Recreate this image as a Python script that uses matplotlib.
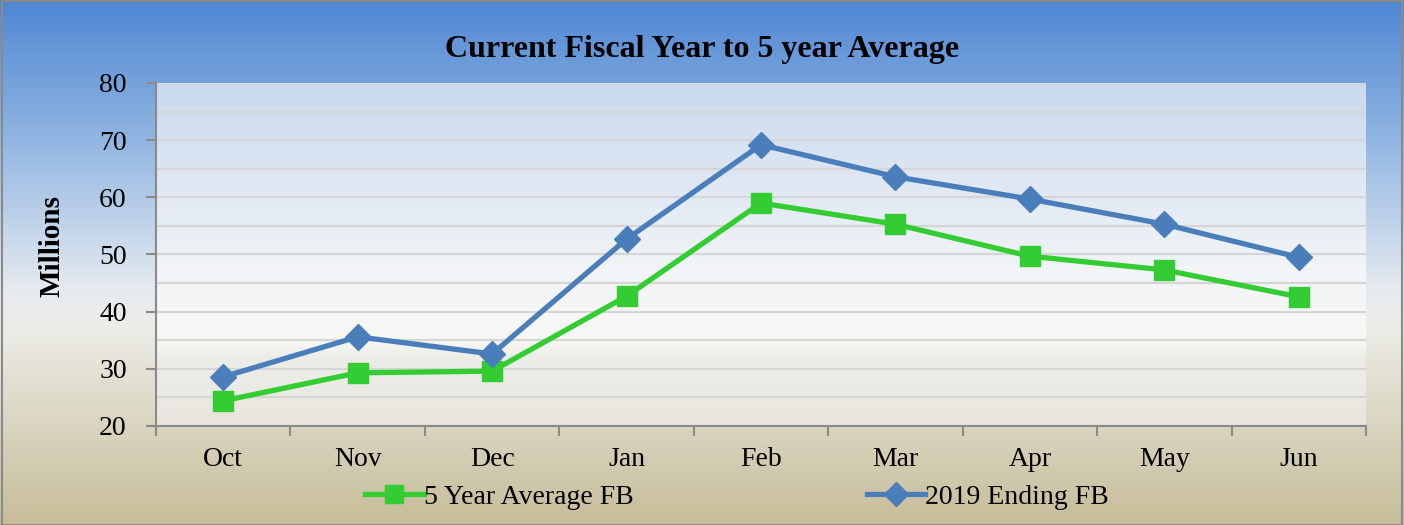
import matplotlib
matplotlib.use("Agg")
import matplotlib.pyplot as plt
import numpy as np
from matplotlib.colors import LinearSegmentedColormap
from matplotlib.ticker import MultipleLocator

months = ["Oct", "Nov", "Dec", "Jan", "Feb", "Mar", "Apr", "May", "Jun"]
avg_5yr = [24.4, 29.3, 29.6, 42.7, 59.0, 55.3, 49.7, 47.3, 42.6]
ending_2019 = [28.6, 35.6, 32.6, 52.7, 69.2, 63.6, 59.7, 55.3, 49.5]

plt.rcParams['font.family'] = ['Liberation Serif', 'DejaVu Serif']

fig = plt.figure(figsize=(14.04, 5.25), dpi=100)

# figure background gradient (blue -> white -> tan)
bg = fig.add_axes([0, 0, 1, 1], zorder=-10)
bg_cmap = LinearSegmentedColormap.from_list("bg", [
    (0.0, (0.31, 0.53, 0.83)),
    (0.25, (0.55, 0.70, 0.88)),
    (0.55, (0.90, 0.92, 0.94)),
    (0.62, (0.93, 0.93, 0.91)),
    (1.0, (0.78, 0.74, 0.60)),
])
bg.imshow(np.linspace(0, 1, 256).reshape(-1, 1), aspect="auto", cmap=bg_cmap,
          extent=[0, 1, 0, 1], origin="upper")
bg.set_xlim(0, 1)
bg.set_ylim(0, 1)
bg.axis("off")
bg.plot([0.0015, 0.0015, 0.9985, 0.9985, 0.0015], [0.0, 0.998, 0.998, 0.0, 0.0],
        color="#8a8a8a", lw=1.5, transform=bg.transAxes, clip_on=False)

# plot area: left 156, right 1366, top 83, bottom 426 (pixels)
W, H = 1404, 525
ax = fig.add_axes([156 / W, 1 - 426 / H, (1366 - 156) / W, (426 - 83) / H])
pa_cmap = LinearSegmentedColormap.from_list("pa", [
    (0.0, (0.79, 0.85, 0.93)),
    (0.55, (0.95, 0.96, 0.97)),
    (0.75, (0.97, 0.97, 0.96)),
    (0.8, (0.93, 0.93, 0.91)),
    (1.0, (0.91, 0.90, 0.87)),
])
ax.imshow(np.linspace(0, 1, 256).reshape(-1, 1), aspect="auto", cmap=pa_cmap,
          extent=[-0.5, 8.5, 20, 80], origin="upper", zorder=0)

x = np.arange(len(months))
ax.plot(x, avg_5yr, color="#33cc33", lw=3.8, marker="s", markersize=14.5,
        label="5 Year Average FB", zorder=3)
ax.plot(x, ending_2019, color="#4a7ebb", lw=3.8, marker="D", markersize=13.5,
        label="2019 Ending FB", zorder=4)

ax.set_xlim(-0.5, 8.5)
ax.set_ylim(20, 80)
ax.yaxis.set_major_locator(MultipleLocator(10))
ax.yaxis.set_minor_locator(MultipleLocator(5))
ax.grid(True, which="both", axis="y", color="#d6d6d6", lw=1.6, zorder=1)
ax.set_axisbelow(True)

ax.set_xticks(x)
ax.set_xticklabels(months)
ax.set_xticks(np.arange(-0.5, 9.0, 1.0), minor=True)
ax.tick_params(axis="x", which="major", length=0, pad=15, labelsize=20)
ax.tick_params(axis="x", which="minor", length=7, width=1.5, color="#8a8a8a", direction="out")
ax.tick_params(axis="y", which="major", length=7, width=1.5, color="#8a8a8a",
               labelsize=20, pad=14)
ax.tick_params(axis="y", which="minor", length=0)

for s in ["top", "right"]:
    ax.spines[s].set_visible(False)
for s in ["left", "bottom"]:
    ax.spines[s].set_color("#8a8a8a")
    ax.spines[s].set_linewidth(1.5)

ax.set_ylabel("Millions", fontsize=21, fontweight="bold")
ax.yaxis.set_label_coords(-(156 - 65) / (1366 - 156), (426 - 246) / (426 - 83))
fig.text(702 / W, 1 - 50 / H, "Current Fiscal Year to 5 year Average",
         ha="center", va="center", fontsize=23, fontweight="bold")

fig.legend(loc="center", bbox_to_anchor=(737 / W, 1 - 497 / H), ncol=2,
           frameon=False, fontsize=20, handlelength=2.1, handletextpad=0.0,
           columnspacing=8.4, markerscale=0.9)

fig.savefig("out.png", dpi=100)
